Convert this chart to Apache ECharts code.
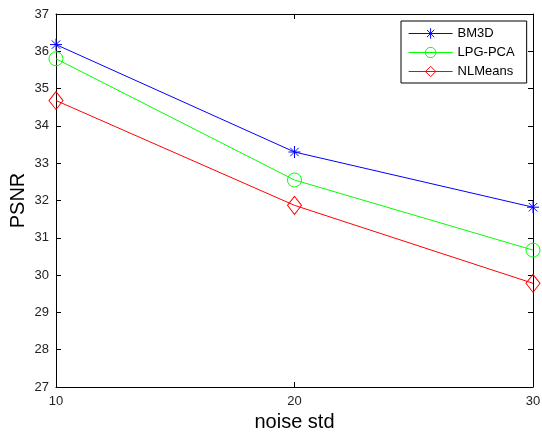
<!DOCTYPE html>
<html><head><meta charset="utf-8">
<script src="https://cdn.jsdelivr.net/npm/echarts@6/dist/echarts.min.js"></script>
<style>html,body{margin:0;padding:0;background:#fff}#c{width:542px;height:432px}</style>
</head><body><div id="c"></div>
<script>
const noiseStd = [10, 20, 30];
const bm3d = [36.18, 33.30, 31.82];
const lpgpca = [35.80, 32.55, 30.67];
const nlmeans = [34.68, 31.87, 29.78];
const yTicks = [27, 28, 29, 30, 31, 32, 33, 34, 35, 36, 37];
const seriesNames = ['BM3D', 'LPG-PCA', 'NLMeans'];
const seriesColors = ['#0000ff', '#00ff00', '#ff0000'];

const FONT = 'Liberation Sans, Arial, sans-serif';
const asterisk = 'path://M0,-10L0,10M-10,0L10,0M-7,-7L7,7M-7,7L7,-7';
const pairs = a => noiseStd.map((x, i) => [x, a[i]]);

const chart = echarts.init(document.getElementById('c'));
const axisCommon = {
  axisLine: {show: true, lineStyle: {color: '#000', width: 1}},
  axisTick: {show: true, inside: true, length: 5, lineStyle: {color: '#000'}},
  splitLine: {show: false}
};
chart.setOption({
  animation: false,
  textStyle: {fontFamily: FONT},
  grid: {left: 56, right: 9, top: 14, bottom: 45, show: false, containLabel: false, outerBoundsMode: 'none'},
  xAxis: [
    Object.assign({type: 'value', min: 10, max: 30, interval: 10, position: 'bottom',
      name: 'noise std', nameLocation: 'middle', nameGap: 24,
      nameTextStyle: {fontSize: 20, color: '#000', fontFamily: FONT},
      axisLabel: {color: '#222', fontSize: 13, margin: 8, fontFamily: FONT}}, axisCommon),
    Object.assign({type: 'value', min: 10, max: 30, interval: 10, position: 'top',
      axisLabel: {show: false}}, axisCommon)
  ],
  yAxis: [
    Object.assign({type: 'value', min: yTicks[0], max: yTicks[yTicks.length-1], interval: 1, position: 'left',
      name: 'PSNR', nameLocation: 'middle', nameGap: 28, nameRotate: 90, nameMoveOverlap: false,
      nameTextStyle: {fontSize: 20, color: '#000', fontFamily: FONT},
      axisLabel: {color: '#222', fontSize: 13, margin: 7, fontFamily: FONT}}, axisCommon),
    Object.assign({type: 'value', min: yTicks[0], max: yTicks[yTicks.length-1], interval: 1, position: 'right',
      axisLabel: {show: false}}, axisCommon)
  ],
  legend: {
    orient: 'vertical', left: 401, top: 21, itemWidth: 44, itemHeight: 13, itemGap: 6,
    padding: [6, 12, 5, 7],
    backgroundColor: '#fff', borderColor: '#000', borderWidth: 1, borderRadius: 0,
    textStyle: {fontSize: 13, color: '#000', fontFamily: FONT},
    data: seriesNames.map((n, i) => ({
      name: n,
      lineStyle: {width: 1.2, color: seriesColors[i]},
      itemStyle: {borderWidth: 1, borderColor: seriesColors[i], color: i === 0 ? seriesColors[i] : 'rgba(0,0,0,0)'}
    }))
  },
  series: [
    {name: seriesNames[0], type: 'line', data: pairs(bm3d), symbol: asterisk, symbolSize: 12, color: seriesColors[0],
      lineStyle: {color: seriesColors[0], width: 1}, itemStyle: {color: seriesColors[0], borderColor: seriesColors[0], borderWidth: 1}},
    {name: seriesNames[1], type: 'line', data: pairs(lpgpca), symbol: 'circle', symbolSize: 14, color: seriesColors[1],
      lineStyle: {color: seriesColors[1], width: 1}, itemStyle: {color: 'rgba(0,0,0,0)', borderColor: seriesColors[1], borderWidth: 1}},
    {name: seriesNames[2], type: 'line', data: pairs(nlmeans), symbol: 'diamond', symbolSize: [14, 18], color: seriesColors[2],
      lineStyle: {color: seriesColors[2], width: 1}, itemStyle: {color: 'rgba(0,0,0,0)', borderColor: seriesColors[2], borderWidth: 1}}
  ]
});
</script></body></html>
